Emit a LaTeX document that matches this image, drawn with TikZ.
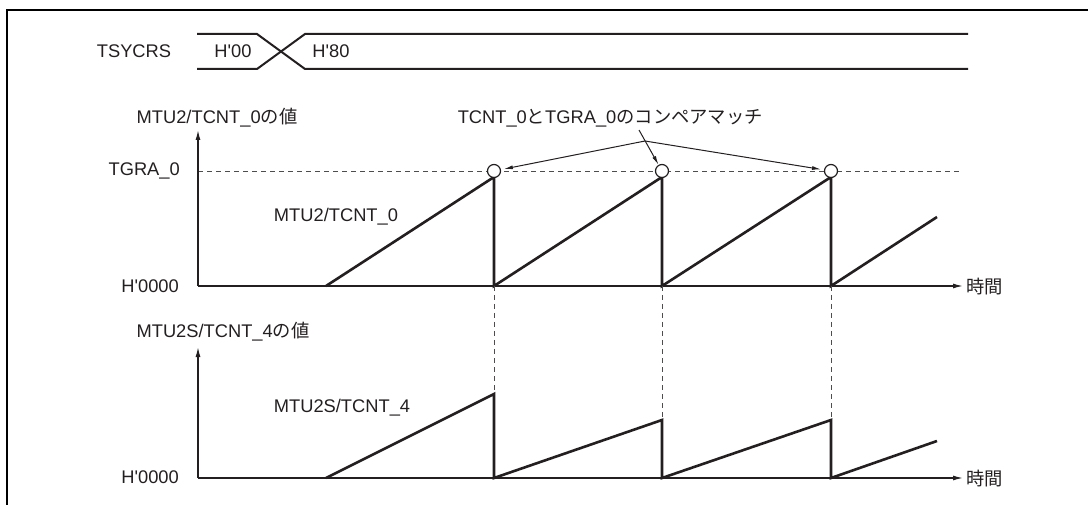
\documentclass[tikz,border=0pt]{standalone}
\usepackage{fontspec}
\setmainfont{Liberation Sans}[Ligatures=TeXOff]
\newfontfamily\jp{Noto Sans CJK JP}
\usetikzlibrary{arrows.meta}
\definecolor{ink}{HTML}{231F20}
\begin{document}
\begin{tikzpicture}[x=1pt,y=-1pt,
  lbl/.style={font=\fontsize{18.3}{22}\selectfont, inner sep=0pt, text=ink},
  ramp/.style={line width=2.6pt, draw=ink, line join=miter},
  axis/.style={line width=1.3pt, draw=ink, -{Latex[length=10pt,width=5pt]}},
  guide/.style={line width=0.9pt, draw=ink!80, dash pattern=on 5pt off 4pt},
  busline/.style={line width=2pt, draw=ink},
  cmatch/.style={circle, draw=ink, fill=white, line width=1.2pt, minimum size=13pt, inner sep=0pt},
  callout/.style={line width=1pt, draw=ink, -{Latex[length=9pt,width=4pt]}, shorten >=3pt},
  framel/.style={line width=2.2pt, draw=black}
]
\useasboundingbox (0,0) rectangle (1088,505);
% frame
\coordinate (fbl) at (7,506);
\coordinate (ftl) at (7,10);
\coordinate (ftr) at (1089,10);
\draw[framel] (fbl) -- (ftl) -- (ftr);

% TSYCRS bus
\node[lbl] (tsy) at (134,51) {TSYCRS};
\coordinate (b0t) at (197,34);
\coordinate (b0b) at (197,69);
\coordinate (x0t) at (257,34);
\coordinate (x0b) at (257,69);
\coordinate (x1t) at (305,34);
\coordinate (x1b) at (305,69);
\coordinate (bet) at (968,34);
\coordinate (beb) at (968,69);
\draw[busline] (b0t) -- (x0t) -- (x1b) -- (beb);
\draw[busline] (b0b) -- (x0b) -- (x1t) -- (bet);
\node[lbl] (h00) at (233,51) {H'00};
\node[lbl] (h80) at (331,51) {H'80};

% upper plot
\node[lbl] (ylab1) at (217,118) {MTU2/TCNT\_0{\jp の値}};
\node[lbl, anchor=east] (tgra) at (180,171) {TGRA\_0};
\node[lbl, anchor=east] (zero1) at (179,286) {H'0000};
\coordinate (o1) at (198,286);
\coordinate (yt1) at (198,130);
\coordinate (xt1) at (963,286);
\coordinate (dl0) at (198,171);
\coordinate (dl1) at (960,171);
\draw[guide] (dl0) -- (dl1);
\draw[axis] (o1) -- (yt1);
\draw[axis] (o1) -- (xt1);
\node[lbl, anchor=west] (time1) at (966,287) {\jp 時間};

\coordinate (a0) at (326,286);
\coordinate (p1) at (494,177);
\coordinate (a1) at (494,286);
\coordinate (p2) at (662,177);
\coordinate (a2) at (662,286);
\coordinate (p3) at (831,177);
\coordinate (a3) at (831,286);
\coordinate (p4) at (937,217);
\draw[ramp] (a0) -- (p1) -- (a1) -- (p2) -- (a2) -- (p3) -- (a3) -- (p4);
\coordinate (m1) at (494,171);
\coordinate (m2) at (662,171);
\coordinate (m3) at (831,171);
\node[cmatch] (c1) at (m1) {};
\node[cmatch] (c2) at (m2) {};
\node[cmatch] (c3) at (m3) {};
\node[lbl] (tc0) at (336,217) {MTU2/TCNT\_0};

% compare match callout
\node[lbl, anchor=east] (cm) at (763,118) {TCNT\_0{\jp と}TGRA\_0{\jp のコンペアマッチ}};
\coordinate (apex) at (645,141);
\coordinate (cmb) at (639,130);
\draw[callout] (apex) -- (c1);
\draw[callout] (apex) -- (c3);
\draw[callout, shorten >=0pt] (cmb) -- (c2);

% lower plot
\node[lbl] (ylab2) at (223,332) {MTU2S/TCNT\_4{\jp の値}};
\node[lbl, anchor=east] (zero2) at (179,477) {H'0000};
\coordinate (o2) at (198,478);
\coordinate (yt2) at (198,347);
\coordinate (xt2) at (963,478);
\draw[axis] (o2) -- (yt2);
\draw[axis] (o2) -- (xt2);
\node[lbl, anchor=west] (time2) at (966,479) {\jp 時間};

\coordinate (d0) at (326,478);
\coordinate (q1) at (494,394);
\coordinate (d1) at (494,478);
\coordinate (q2) at (662,420);
\coordinate (d2) at (662,478);
\coordinate (q3) at (831,420);
\coordinate (d3) at (831,478);
\coordinate (q4) at (937,441);
\draw[ramp] (d0) -- (q1) -- (d1) -- (q2) -- (d2) -- (q3) -- (d3) -- (q4);
\node[lbl] (tc4) at (342,408) {MTU2S/TCNT\_4};

% vertical guides
\draw[guide] (a1) -- (q1);
\draw[guide] (a2) -- (q2);
\draw[guide] (a3) -- (q3);
\end{tikzpicture}
\end{document}
